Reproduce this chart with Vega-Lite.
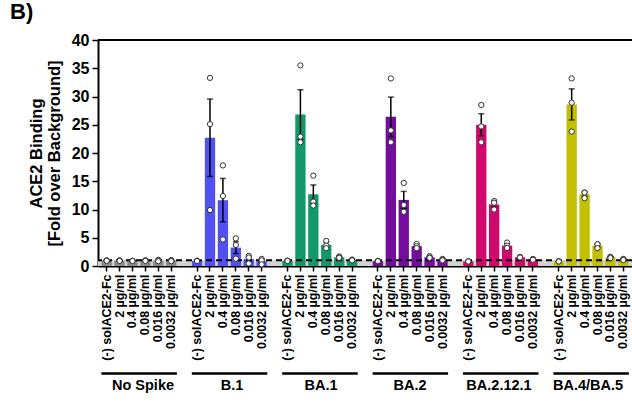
{
"$schema": "https://vega.github.io/schema/vega-lite/v6.json",
"width": 534, "height": 226,
"autosize": {"type": "none"},
"padding": {"left": 98, "top": 40, "right": 0, "bottom": 139},
"title": {"text": "B)", "anchor": "start", "frame": "group", "dx": -88, "dy": 17, "fontSize": 22, "fontWeight": "bold", "offset": 8, "baseline": "alphabetic", "color": "black"},
"config": {"font": "Liberation Sans", "view": {"stroke": null}, "axis": {"grid": false}},
"datasets": {
"bars": [
{"group":"No Spike","conc":"(-) solACE2-Fc","mean":0.95,"sem":0.03},
{"group":"No Spike","conc":"2 µg/ml","mean":0.95,"sem":0.03},
{"group":"No Spike","conc":"0.4 µg/ml","mean":0.9,"sem":0.03},
{"group":"No Spike","conc":"0.08 µg/ml","mean":0.95,"sem":0.05},
{"group":"No Spike","conc":"0.016 µg/ml","mean":0.95,"sem":0.08},
{"group":"No Spike","conc":"0.0032 µg/ml","mean":0.95,"sem":0.07},
{"group":"B.1","conc":"(-) solACE2-Fc","mean":0.9,"sem":0.02},
{"group":"B.1","conc":"2 µg/ml","mean":22.7,"sem":6.85},
{"group":"B.1","conc":"0.4 µg/ml","mean":11.65,"sem":3.85},
{"group":"B.1","conc":"0.08 µg/ml","mean":3.25,"sem":1.05},
{"group":"B.1","conc":"0.016 µg/ml","mean":1.25,"sem":0.4},
{"group":"B.1","conc":"0.0032 µg/ml","mean":0.85,"sem":0.3},
{"group":"BA.1","conc":"(-) solACE2-Fc","mean":0.9,"sem":0.02},
{"group":"BA.1","conc":"2 µg/ml","mean":26.8,"sem":4.4},
{"group":"BA.1","conc":"0.4 µg/ml","mean":12.7,"sem":1.65},
{"group":"BA.1","conc":"0.08 µg/ml","mean":3.75,"sem":0.4},
{"group":"BA.1","conc":"0.016 µg/ml","mean":1.55,"sem":0.08},
{"group":"BA.1","conc":"0.0032 µg/ml","mean":1.05,"sem":0.06},
{"group":"BA.2","conc":"(-) solACE2-Fc","mean":0.85,"sem":0.02},
{"group":"BA.2","conc":"2 µg/ml","mean":26.4,"sem":3.5},
{"group":"BA.2","conc":"0.4 µg/ml","mean":11.7,"sem":1.5},
{"group":"BA.2","conc":"0.08 µg/ml","mean":3.5,"sem":0.22},
{"group":"BA.2","conc":"0.016 µg/ml","mean":1.55,"sem":0.09},
{"group":"BA.2","conc":"0.0032 µg/ml","mean":1.1,"sem":0.07},
{"group":"BA.2.12.1","conc":"(-) solACE2-Fc","mean":0.8,"sem":0.02},
{"group":"BA.2.12.1","conc":"2 µg/ml","mean":25.0,"sem":1.95},
{"group":"BA.2.12.1","conc":"0.4 µg/ml","mean":10.9,"sem":0.45},
{"group":"BA.2.12.1","conc":"0.08 µg/ml","mean":3.6,"sem":0.28},
{"group":"BA.2.12.1","conc":"0.016 µg/ml","mean":1.55,"sem":0.03},
{"group":"BA.2.12.1","conc":"0.0032 µg/ml","mean":1.15,"sem":0.05},
{"group":"BA.4/BA.5","conc":"(-) solACE2-Fc","mean":0.8,"sem":0.02},
{"group":"BA.4/BA.5","conc":"2 µg/ml","mean":28.6,"sem":2.75},
{"group":"BA.4/BA.5","conc":"0.4 µg/ml","mean":12.7,"sem":0.35},
{"group":"BA.4/BA.5","conc":"0.08 µg/ml","mean":3.6,"sem":0.24},
{"group":"BA.4/BA.5","conc":"0.016 µg/ml","mean":1.55,"sem":0.07},
{"group":"BA.4/BA.5","conc":"0.0032 µg/ml","mean":1.15,"sem":0.06}
],
"points": [
{"group":"No Spike","conc":"(-) solACE2-Fc","value":1.0},{"group":"No Spike","conc":"(-) solACE2-Fc","value":0.95},{"group":"No Spike","conc":"(-) solACE2-Fc","value":0.92},
{"group":"No Spike","conc":"2 µg/ml","value":1.0},{"group":"No Spike","conc":"2 µg/ml","value":0.95},{"group":"No Spike","conc":"2 µg/ml","value":0.9},
{"group":"No Spike","conc":"0.4 µg/ml","value":0.92},{"group":"No Spike","conc":"0.4 µg/ml","value":0.9},{"group":"No Spike","conc":"0.4 µg/ml","value":0.88},
{"group":"No Spike","conc":"0.08 µg/ml","value":1.0},{"group":"No Spike","conc":"0.08 µg/ml","value":0.95},{"group":"No Spike","conc":"0.08 µg/ml","value":0.9},
{"group":"No Spike","conc":"0.016 µg/ml","value":1.1},{"group":"No Spike","conc":"0.016 µg/ml","value":0.95},{"group":"No Spike","conc":"0.016 µg/ml","value":0.85},
{"group":"No Spike","conc":"0.0032 µg/ml","value":1.05},{"group":"No Spike","conc":"0.0032 µg/ml","value":0.95},{"group":"No Spike","conc":"0.0032 µg/ml","value":0.85},
{"group":"B.1","conc":"(-) solACE2-Fc","value":0.95},{"group":"B.1","conc":"(-) solACE2-Fc","value":0.9},{"group":"B.1","conc":"(-) solACE2-Fc","value":0.88},
{"group":"B.1","conc":"2 µg/ml","value":33.3},{"group":"B.1","conc":"2 µg/ml","value":25.1},{"group":"B.1","conc":"2 µg/ml","value":9.9},
{"group":"B.1","conc":"0.4 µg/ml","value":17.8},{"group":"B.1","conc":"0.4 µg/ml","value":12.4},{"group":"B.1","conc":"0.4 µg/ml","value":4.7},
{"group":"B.1","conc":"0.08 µg/ml","value":4.9},{"group":"B.1","conc":"0.08 µg/ml","value":3.7},{"group":"B.1","conc":"0.08 µg/ml","value":1.3},
{"group":"B.1","conc":"0.016 µg/ml","value":1.8},{"group":"B.1","conc":"0.016 µg/ml","value":1.5},{"group":"B.1","conc":"0.016 µg/ml","value":0.45},
{"group":"B.1","conc":"0.0032 µg/ml","value":1.25},{"group":"B.1","conc":"0.0032 µg/ml","value":1.0},{"group":"B.1","conc":"0.0032 µg/ml","value":0.3},
{"group":"BA.1","conc":"(-) solACE2-Fc","value":0.95},{"group":"BA.1","conc":"(-) solACE2-Fc","value":0.92},{"group":"BA.1","conc":"(-) solACE2-Fc","value":0.9},
{"group":"BA.1","conc":"2 µg/ml","value":35.5},{"group":"BA.1","conc":"2 µg/ml","value":22.9},{"group":"BA.1","conc":"2 µg/ml","value":21.9},
{"group":"BA.1","conc":"0.4 µg/ml","value":16.0},{"group":"BA.1","conc":"0.4 µg/ml","value":11.4},{"group":"BA.1","conc":"0.4 µg/ml","value":10.7},
{"group":"BA.1","conc":"0.08 µg/ml","value":4.45},{"group":"BA.1","conc":"0.08 µg/ml","value":3.6},{"group":"BA.1","conc":"0.08 µg/ml","value":3.15},
{"group":"BA.1","conc":"0.016 µg/ml","value":1.7},{"group":"BA.1","conc":"0.016 µg/ml","value":1.55},{"group":"BA.1","conc":"0.016 µg/ml","value":1.45},
{"group":"BA.1","conc":"0.0032 µg/ml","value":1.15},{"group":"BA.1","conc":"0.0032 µg/ml","value":1.0},{"group":"BA.1","conc":"0.0032 µg/ml","value":1.0},
{"group":"BA.2","conc":"(-) solACE2-Fc","value":0.9},{"group":"BA.2","conc":"(-) solACE2-Fc","value":0.88},{"group":"BA.2","conc":"(-) solACE2-Fc","value":0.85},
{"group":"BA.2","conc":"2 µg/ml","value":33.2},{"group":"BA.2","conc":"2 µg/ml","value":24.0},{"group":"BA.2","conc":"2 µg/ml","value":21.9},
{"group":"BA.2","conc":"0.4 µg/ml","value":14.7},{"group":"BA.2","conc":"0.4 µg/ml","value":10.8},{"group":"BA.2","conc":"0.4 µg/ml","value":9.6},
{"group":"BA.2","conc":"0.08 µg/ml","value":3.9},{"group":"BA.2","conc":"0.08 µg/ml","value":3.5},{"group":"BA.2","conc":"0.08 µg/ml","value":3.15},
{"group":"BA.2","conc":"0.016 µg/ml","value":1.75},{"group":"BA.2","conc":"0.016 µg/ml","value":1.5},{"group":"BA.2","conc":"0.016 µg/ml","value":1.45},
{"group":"BA.2","conc":"0.0032 µg/ml","value":1.25},{"group":"BA.2","conc":"0.0032 µg/ml","value":1.1},{"group":"BA.2","conc":"0.0032 µg/ml","value":1.0},
{"group":"BA.2.12.1","conc":"(-) solACE2-Fc","value":0.85},{"group":"BA.2.12.1","conc":"(-) solACE2-Fc","value":0.8},{"group":"BA.2.12.1","conc":"(-) solACE2-Fc","value":0.8},
{"group":"BA.2.12.1","conc":"2 µg/ml","value":28.5},{"group":"BA.2.12.1","conc":"2 µg/ml","value":24.7},{"group":"BA.2.12.1","conc":"2 µg/ml","value":21.9},
{"group":"BA.2.12.1","conc":"0.4 µg/ml","value":11.5},{"group":"BA.2.12.1","conc":"0.4 µg/ml","value":11.2},{"group":"BA.2.12.1","conc":"0.4 µg/ml","value":10.0},
{"group":"BA.2.12.1","conc":"0.08 µg/ml","value":4.15},{"group":"BA.2.12.1","conc":"0.08 µg/ml","value":3.6},{"group":"BA.2.12.1","conc":"0.08 µg/ml","value":3.2},
{"group":"BA.2.12.1","conc":"0.016 µg/ml","value":1.6},{"group":"BA.2.12.1","conc":"0.016 µg/ml","value":1.55},{"group":"BA.2.12.1","conc":"0.016 µg/ml","value":1.5},
{"group":"BA.2.12.1","conc":"0.0032 µg/ml","value":1.25},{"group":"BA.2.12.1","conc":"0.0032 µg/ml","value":1.15},{"group":"BA.2.12.1","conc":"0.0032 µg/ml","value":1.1},
{"group":"BA.4/BA.5","conc":"(-) solACE2-Fc","value":0.85},{"group":"BA.4/BA.5","conc":"(-) solACE2-Fc","value":0.8},{"group":"BA.4/BA.5","conc":"(-) solACE2-Fc","value":0.8},
{"group":"BA.4/BA.5","conc":"2 µg/ml","value":33.2},{"group":"BA.4/BA.5","conc":"2 µg/ml","value":28.9},{"group":"BA.4/BA.5","conc":"2 µg/ml","value":23.8},
{"group":"BA.4/BA.5","conc":"0.4 µg/ml","value":13.0},{"group":"BA.4/BA.5","conc":"0.4 µg/ml","value":13.0},{"group":"BA.4/BA.5","conc":"0.4 µg/ml","value":12.0},
{"group":"BA.4/BA.5","conc":"0.08 µg/ml","value":3.85},{"group":"BA.4/BA.5","conc":"0.08 µg/ml","value":3.85},{"group":"BA.4/BA.5","conc":"0.08 µg/ml","value":3.15},
{"group":"BA.4/BA.5","conc":"0.016 µg/ml","value":1.6},{"group":"BA.4/BA.5","conc":"0.016 µg/ml","value":1.6},{"group":"BA.4/BA.5","conc":"0.016 µg/ml","value":1.4},
{"group":"BA.4/BA.5","conc":"0.0032 µg/ml","value":1.25},{"group":"BA.4/BA.5","conc":"0.0032 µg/ml","value":1.2},{"group":"BA.4/BA.5","conc":"0.0032 µg/ml","value":1.05}
]
},
"layer": [
{
"layer": [
{"data": {"values": [{}]}, "mark": {"type": "rect", "color": "#d2d2d2"}, "encoding": {"y": {"datum": 0, "type": "quantitative", "axis": null}, "y2": {"datum": 1}}},
{"data": {"name": "bars"},
 "transform": [{"calculate": "datum.group + '|' + datum.conc", "as": "key"}],
 "mark": {"type": "bar"},
 "encoding": {
  "x": {"field": "key", "type": "nominal",
   "scale": {"domain": [
    "No Spike|(-) solACE2-Fc","No Spike|2 µg/ml","No Spike|0.4 µg/ml","No Spike|0.08 µg/ml","No Spike|0.016 µg/ml","No Spike|0.0032 µg/ml","gap1|",
    "B.1|(-) solACE2-Fc","B.1|2 µg/ml","B.1|0.4 µg/ml","B.1|0.08 µg/ml","B.1|0.016 µg/ml","B.1|0.0032 µg/ml","gap2|",
    "BA.1|(-) solACE2-Fc","BA.1|2 µg/ml","BA.1|0.4 µg/ml","BA.1|0.08 µg/ml","BA.1|0.016 µg/ml","BA.1|0.0032 µg/ml","gap3|",
    "BA.2|(-) solACE2-Fc","BA.2|2 µg/ml","BA.2|0.4 µg/ml","BA.2|0.08 µg/ml","BA.2|0.016 µg/ml","BA.2|0.0032 µg/ml","gap4|",
    "BA.2.12.1|(-) solACE2-Fc","BA.2.12.1|2 µg/ml","BA.2.12.1|0.4 µg/ml","BA.2.12.1|0.08 µg/ml","BA.2.12.1|0.016 µg/ml","BA.2.12.1|0.0032 µg/ml","gap5|",
    "BA.4/BA.5|(-) solACE2-Fc","BA.4/BA.5|2 µg/ml","BA.4/BA.5|0.4 µg/ml","BA.4/BA.5|0.08 µg/ml","BA.4/BA.5|0.016 µg/ml","BA.4/BA.5|0.0032 µg/ml"],
    "paddingInner": 0.2, "paddingOuter": 0.27},
   "axis": {"title": null, "labelAngle": 270, "labelFontSize": 12.5, "labelFontWeight": "bold", "labelColor": "black", "labelPadding": 3,
    "tickSize": 5, "tickWidth": 1.5, "tickColor": "black", "domainWidth": 2, "domainColor": "black",
    "labelExpr": "split(datum.value, '|')[1]", "labelOverlap": false, "labelBound": false,
    "tickOpacity": {"condition": {"test": "indexof(datum.value, 'gap') === 0", "value": 0}, "value": 1}}},
  "y": {"field": "mean", "type": "quantitative",
   "scale": {"domain": [0, 40], "nice": false},
   "axis": {"orient": "left", "title": ["ACE2 Binding", "[Fold over Background]"], "titleFontSize": 16.5, "titleFontWeight": "bold", "titleLineHeight": 18, "titlePadding": 9, "titleColor": "black",
    "labelFontSize": 16, "labelFontWeight": "bold", "labelColor": "black", "labelPadding": 3, "labelOverlap": false,
    "values": [0, 5, 10, 15, 20, 25, 30, 35, 40], "tickSize": 6, "tickWidth": 1.5, "tickColor": "black", "domainWidth": 2, "domainColor": "black"}},
  "color": {"field": "group", "type": "nominal", "legend": null,
   "scale": {"domain": ["No Spike", "B.1", "BA.1", "BA.2", "BA.2.12.1", "BA.4/BA.5"], "range": ["#8a8a8a", "#5151f2", "#12996b", "#740c9e", "#d0076c", "#c4bf00"]}}
 }},
{"data": {"values": [{}]}, "mark": {"type": "rule", "strokeDash": [6, 4], "strokeWidth": 2, "color": "black"}, "encoding": {"y": {"datum": 1, "type": "quantitative", "axis": null}}},
{"data": {"name": "bars"},
 "transform": [{"calculate": "datum.group + '|' + datum.conc", "as": "key"}],
 "mark": {"type": "errorbar", "ticks": {"size": 6, "thickness": 1.5, "color": "black"}, "rule": {"strokeWidth": 1.5, "color": "black"}},
 "encoding": {"x": {"field": "key", "type": "nominal"}, "y": {"field": "mean", "type": "quantitative", "axis": null}, "yError": {"field": "sem"}}},
{"data": {"name": "points"},
 "transform": [{"calculate": "datum.group + '|' + datum.conc", "as": "key"}],
 "mark": {"type": "point", "filled": true, "fill": "white", "stroke": "#333333", "strokeWidth": 1, "size": 28, "opacity": 1},
 "encoding": {"x": {"field": "key", "type": "nominal"}, "y": {"field": "value", "type": "quantitative", "axis": null}}},
{"data": {"values": [{}]}, "mark": {"type": "rule", "strokeWidth": 2, "color": "black"}, "encoding": {"y": {"datum": 40, "type": "quantitative", "axis": null}}}
],
"resolve": {"axis": {"y": "independent"}}
},
{"data": {"name": "bars"},
 "mark": {"type": "point", "opacity": 0},
 "encoding": {
  "x": {"field": "group", "type": "nominal",
   "scale": {"domain": ["No Spike", "B.1", "BA.1", "BA.2", "BA.2.12.1", "BA.4/BA.5"], "paddingInner": 0.1743, "paddingOuter": 0.04},
   "axis": {"orient": "bottom", "offset": 107, "title": null, "ticks": false, "labelAngle": 0, "labelFontSize": 14.5, "labelFontWeight": "bold", "labelColor": "black", "labelPadding": 5,
    "domainWidth": 2.5, "domainColor": "black", "domainDash": [75.5, 14.9], "domainDashOffset": 87.5, "labelOverlap": false}},
  "y": {"field": "mean", "type": "quantitative", "axis": null}}}
],
"resolve": {"scale": {"x": "independent"}, "axis": {"y": "independent"}}
}
